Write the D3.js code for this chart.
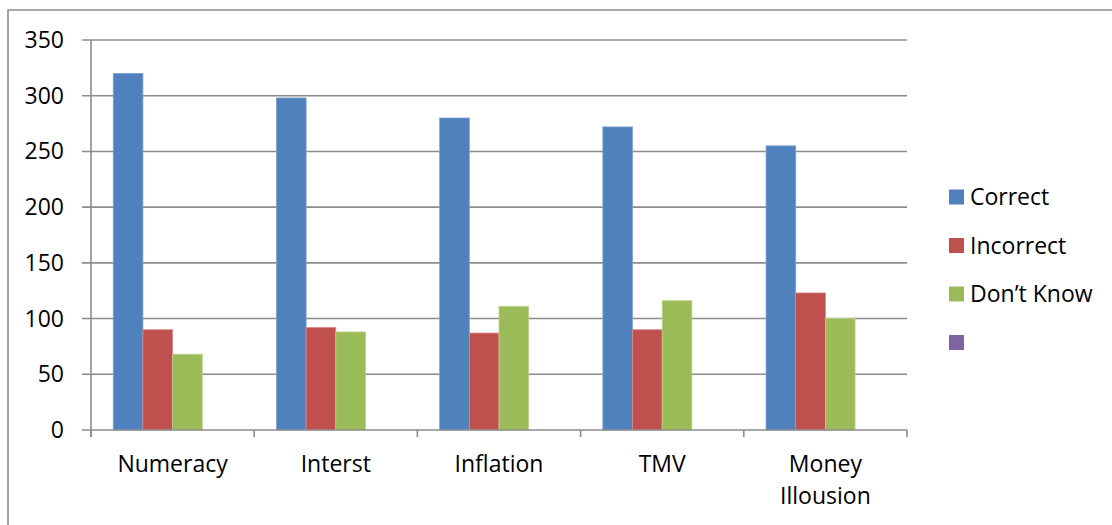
<!DOCTYPE html>
<html>
<head>
<meta charset="utf-8">
<script src="https://cdn.jsdelivr.net/npm/d3@7"></script>
<style>
  html, body { margin: 0; padding: 0; background: #fff; }
  svg { display: block; }
  text { font-family: "Open Sans", "Liberation Sans", sans-serif; fill: #000; }
</style>
</head>
<body>
<svg id="chart" width="1112" height="525"></svg>
<script>
// Survey answers per financial-literacy question
const categories = ["Numeracy", "Interst", "Inflation", "TMV", "Money Illousion"];
const seriesNames = ["Correct", "Incorrect", "Don\u2019t Know", ""];
const correct   = [320, 298, 280, 272, 255];
const incorrect = [90, 92, 87, 90, 123];
const dontKnow  = [68, 88, 111, 116, 100];
const blankSeries = [null, null, null, null, null];
const yTicks = [0, 50, 100, 150, 200, 250, 300, 350];

const seriesValues = [correct, incorrect, dontKnow, blankSeries];
const colors = ["#4f81bd", "#c0504d", "#9bbb59", "#8064a2"];
const edgeColors = ["#7ea2d2", "#d98886", "#bcd38d", "#a48fc0"];

const svg = d3.select("#chart");
const W = 1112, H = 525;
const FS = 23;

// outer chart frame
svg.append("path")
  .attr("d", `M8,${H} L8,10 L${W},10`)
  .attr("fill", "none")
  .attr("stroke", "#8c8c8c")
  .attr("stroke-width", 1.6);

const plot = { left: 91, right: 907, top: 40, bottom: 430 };

const y = d3.scaleLinear().domain([0, 350]).range([plot.bottom, plot.top]);
const x = d3.scaleBand().domain(categories).range([plot.left, plot.right]).paddingInner(0).paddingOuter(0);

// bars: 4 slots per category with a 150% gap
const step = x.bandwidth();
const barW = step / (seriesNames.length + 1.5);
const x1 = d3.scaleBand().domain(d3.range(seriesNames.length))
  .range([(step - barW * seriesNames.length) / 2, (step + barW * seriesNames.length) / 2]);

// horizontal gridlines
svg.append("g")
  .selectAll("line")
  .data(yTicks.filter(t => t > 0))
  .join("line")
  .attr("x1", plot.left - 9)
  .attr("x2", plot.right)
  .attr("y1", d => y(d))
  .attr("y2", d => y(d))
  .attr("stroke", "#8c8c8c")
  .attr("stroke-width", 1.6);

// y axis labels
svg.append("g")
  .selectAll("text")
  .data(yTicks)
  .join("text")
  .attr("x", 64)
  .attr("y", d => y(d))
  .attr("dy", "0.35em")
  .attr("text-anchor", "end")
  .attr("font-size", FS)
  .text(d => d);

// bars
const groups = svg.append("g")
  .selectAll("g")
  .data(seriesValues)
  .join("g")
  .attr("fill", (d, i) => colors[i])
  .attr("stroke", (d, i) => edgeColors[i])
  .attr("stroke-width", 0.8);

groups.selectAll("rect")
  .data((vals, si) => vals.map((v, ci) => ({ v, si, c: categories[ci] })).filter(d => d.v != null))
  .join("rect")
  .attr("x", d => x(d.c) + x1(d.si))
  .attr("width", x1.bandwidth())
  .attr("y", d => y(d.v))
  .attr("height", d => y(0) - y(d.v));

// axes lines
const axisG = svg.append("g").attr("stroke", "#8c8c8c").attr("stroke-width", 1.6);
axisG.append("line")
  .attr("x1", plot.left).attr("x2", plot.left)
  .attr("y1", plot.top).attr("y2", plot.bottom + 7);
axisG.append("line")
  .attr("x1", plot.left - 9).attr("x2", plot.right)
  .attr("y1", plot.bottom).attr("y2", plot.bottom);
axisG.selectAll("line.tick")
  .data(categories.map(c => x(c)).concat([plot.right]))
  .join("line")
  .attr("class", "tick")
  .attr("x1", d => d).attr("x2", d => d)
  .attr("y1", plot.bottom).attr("y2", plot.bottom + 7);

// x category labels, wrapped onto two lines when too wide
const xl = svg.append("g")
  .selectAll("text")
  .data(categories)
  .join("text")
  .attr("x", d => x(d) + step / 2)
  .attr("y", 472)
  .attr("text-anchor", "middle")
  .attr("font-size", FS);
xl.each(function(d) {
  const t = d3.select(this);
  t.text(d);
  if (this.getComputedTextLength() > step * 0.8) {
    t.text(null);
    d.split(" ").forEach((w, i) => {
      t.append("tspan").attr("x", x(d) + step / 2).attr("dy", i === 0 ? 0 : 32).text(w);
    });
  }
});

// legend
const legend = svg.append("g")
  .selectAll("g")
  .data(seriesNames)
  .join("g")
  .attr("transform", (d, i) => `translate(949, ${197 + i * 48.5})`);
legend.append("rect")
  .attr("x", 0).attr("y", -7.5)
  .attr("width", 15).attr("height", 15)
  .attr("fill", (d, i) => colors[i]);
legend.append("text")
  .attr("x", 21)
  .attr("y", 0)
  .attr("dy", "0.35em")
  .attr("font-size", FS)
  .text(d => d);
</script>
</body>
</html>
